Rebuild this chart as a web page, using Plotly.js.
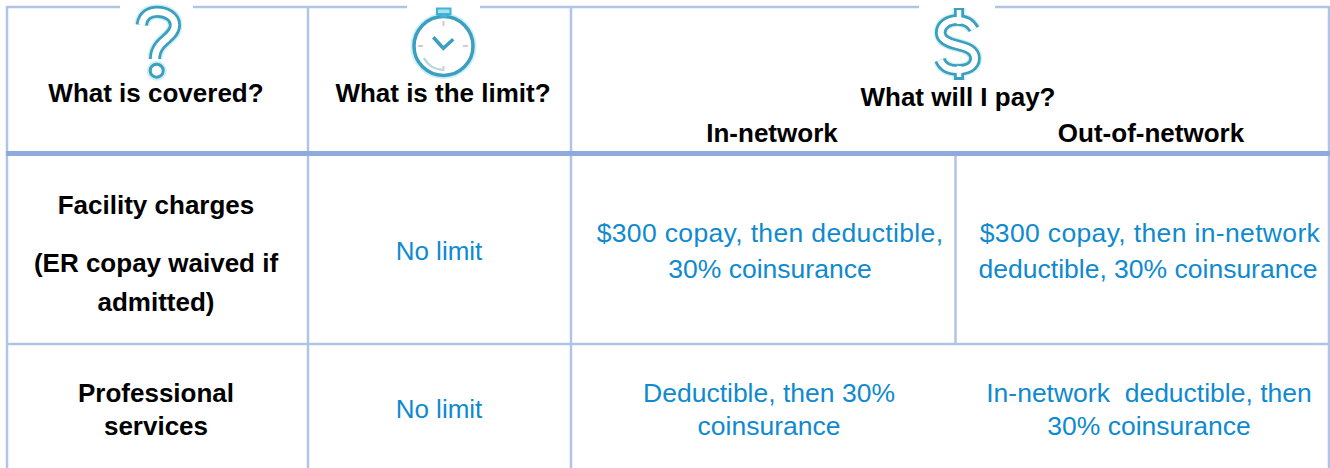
<!DOCTYPE html>
<html><head><meta charset="utf-8">
<script src="https://cdn.plot.ly/plotly-3.0.1.min.js"></script>
<style>
html,body{margin:0;padding:0;background:#fff}
#chart{width:1330px;height:468px}
.scatterlayer .trace:nth-child(5) text{letter-spacing:.35px}
</style></head><body><div id="chart"></div>
<script>
// Table content
const headerLabels = ["What is covered?","What is the limit?","What will I pay?","In-network","Out-of-network"];
const rowLabelLines = ["Facility charges","(ER copay waived if","admitted)","Professional","services"];
const limitTexts = ["No limit","No limit"];
const costLines = ["30% coinsurance","deductible, 30% coinsurance",
  "Deductible, then 30%","coinsurance","In-network  deductible, then","30% coinsurance"];
const costLeadLines = ["$300 copay, then deductible,","$300 copay, then in-network"];

// Placement on the page axes
const headerX=[156,443,958,772,1151], headerY=[95,95,99,135,135];
const rowX=[156,156,156,156,156], rowY=[207,265,304,395,428];
const limitX=[439,439], limitY=[253,411];
const costX=[770,1148,769,769,1149,1149], costY=[271,271,395,428,395,428];
const costLeadX=[770,1150], costLeadY=[235,235];

const frame="#b0c4e6", rule="#8faadc", ink="#000000", blue="#0f8ad0", teal="#3b9fbd", halo="#cdf0f6";
function ln(x0,y0,x1,y1,w,c){return {type:"line",xref:"x",yref:"y",x0,y0,x1,y1,layer:"below",line:{color:c,width:w}};}
function p(d,w,c,fill){return {type:"path",xref:"x",yref:"y",path:d,layer:"above",line:{color:c,width:w},fillcolor:fill||"rgba(0,0,0,0)"};}
function circ(cx,cy,r,w,c,fill){return {type:"circle",xref:"x",yref:"y",x0:cx-r,x1:cx+r,y0:cy-r,y1:cy+r,layer:"above",line:{color:c,width:w},fillcolor:fill||"rgba(0,0,0,0)"};}

const qPath="M141.7 25C143 15 150 11.7 157 11.7C167 11.7 175 17 175 25C175 34 166 38 160 45C156 50 155 54 155 59";
const sPath="M974 29.3C970 21.7 963.3 20 957.3 20C948.3 20 940.7 25 940.7 32.7C940.7 40 950 43.3 957.3 45C966.7 47.3 975 50 975 58.3C975 66.7 966.7 70 957.3 70C950 70 943.3 68.3 940 60";
const shapes=[
  ln(7,7,120,7,2.5,frame),ln(193,7,407,7,2.5,frame),ln(480,7,919,7,2.5,frame),ln(995,7,1329,7,2.5,frame),
  ln(7,6,7,468,2.5,frame),ln(308,6,308,468,2.5,frame),ln(571,6,571,468,2.5,frame),ln(1329,6,1329,468,2.5,frame),
  ln(955.5,153,955.5,344,2.5,frame),
  ln(6,344,1330,344,2.5,frame),
  ln(6,153.5,1330,153.5,5,rule),
  // question mark
  p(qPath,15,halo),p(qPath,12,teal),p(qPath,6.5,"#ffffff"),
  circ(156.7,70.7,7.5,5,halo),circ(156.7,70.7,6.5,3,teal,"#ffffff"),
  // stopwatch
  circ(443.5,46,30,6,halo),circ(443.5,46,29.5,3.5,teal,"#ffffff"),
  p("M437 8.5H450.5V14H437Z",2,"#3fb3d5","#a8e0ef"),p("M441 14H447V17H441Z",1,"#3fb3d5","#3fb3d5"),
  p("M433.3 37.3L443.3 48.3L453.3 39.3",3.5,teal),
  p("M443.5 21V26M443.5 66V71M418 46H423M463 46H468",2,"#d8c8d0"),
  p("M424 58C428 66 436 70 444 70",2.5,"#bcd8dc"),
  // dollar sign
  p("M959 8V21M959 69V80",13,halo),p(sPath,14,halo),
  p("M959 8V21M959 69V80",10,teal),p(sPath,11.5,teal),
  p(sPath,6,"#ffffff"),p("M959 10V24M959 66V77",4.5,"#ffffff"),
];

const traces=[
  {x:headerX,y:headerY,text:headerLabels,font:{size:26,color:ink,family:"Liberation Sans",weight:700}},
  {x:rowX,y:rowY,text:rowLabelLines,font:{size:26,color:ink,family:"Liberation Sans",weight:700}},
  {x:limitX,y:limitY,text:limitTexts,font:{size:26,color:blue,family:"Liberation Sans"}},
  {x:costX,y:costY,text:costLines,font:{size:26.5,color:blue,family:"Liberation Sans"}},
  {x:costLeadX,y:costLeadY,text:costLeadLines,font:{size:26.5,color:blue,family:"Liberation Sans"}}
].map(t=>({type:"scatter",mode:"text",x:t.x,y:t.y,text:t.text,textposition:"middle center",textfont:t.font,hoverinfo:"skip",cliponaxis:false,showlegend:false}));

Plotly.newPlot("chart",traces,{
  width:1330,height:468,margin:{l:0,r:0,t:0,b:0},paper_bgcolor:"#fff",plot_bgcolor:"#fff",showlegend:false,
  xaxis:{range:[0,1330],visible:false,fixedrange:true},
  yaxis:{range:[468,0],visible:false,fixedrange:true},
  shapes:shapes
},{displayModeBar:false,staticPlot:true});
</script></body></html>
